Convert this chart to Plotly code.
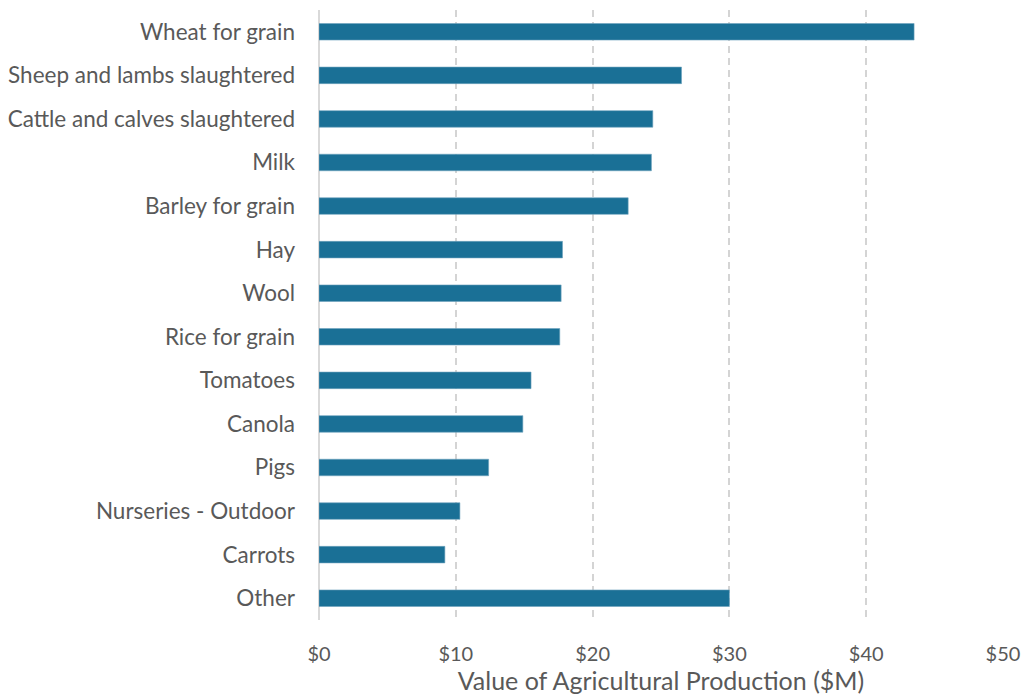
import plotly.graph_objects as go

categories = ["Wheat for grain", "Sheep and lambs slaughtered", "Cattle and calves slaughtered",
              "Milk", "Barley for grain", "Hay", "Wool", "Rice for grain", "Tomatoes",
              "Canola", "Pigs", "Nurseries - Outdoor", "Carrots", "Other"]
values = [43.5, 26.5, 24.4, 24.3, 22.6, 17.8, 17.7, 17.6, 15.5, 14.9, 12.4, 10.3, 9.2, 30.0]
tick_vals = [0, 10, 20, 30, 40, 50]
tick_text = ["$0", "$10", "$20", "$30", "$40", "$50"]

fig = go.Figure(go.Bar(
    x=values, y=categories, orientation="h",
    marker=dict(color="#1a7096", line=dict(color="#6fa3bd", width=0.6)),
    hoverinfo="skip",
))

font_family = "Lato, 'Open Sans', sans-serif"
fig.update_layout(
    template="none",
    width=1021, height=695,
    margin=dict(l=319, r=18, t=10, b=75),
    paper_bgcolor="white", plot_bgcolor="white",
    bargap=0.62,
    showlegend=False,
    font=dict(family=font_family, size=20, color="#595959"),
)
fig.update_xaxes(
    automargin=False,
    range=[0, 50], tickvals=tick_vals, ticktext=tick_text,
    showgrid=True, gridcolor="#d4d4d4", griddash="7px,5px", gridwidth=1.5,
    zeroline=True, zerolinecolor="#d9d9d9", zerolinewidth=1.5,
    showline=False, ticks="", ticklabelstandoff=20,
    tickfont=dict(size=20, color="#595959"),
    title=dict(text="Value of Agricultural Production ($M)", font=dict(size=25, color="#595959"), standoff=6),
)
fig.update_yaxes(
    automargin=False,
    autorange="reversed", showgrid=False, zeroline=False, showline=False,
    ticks="", ticklabelstandoff=23,
    tickfont=dict(size=22.5, color="#595959"),
)

fig.write_html(
    "out.html",
    config={"displayModeBar": False},
    post_script="document.body.style.margin='0';document.body.style.overflow='hidden';",
)
